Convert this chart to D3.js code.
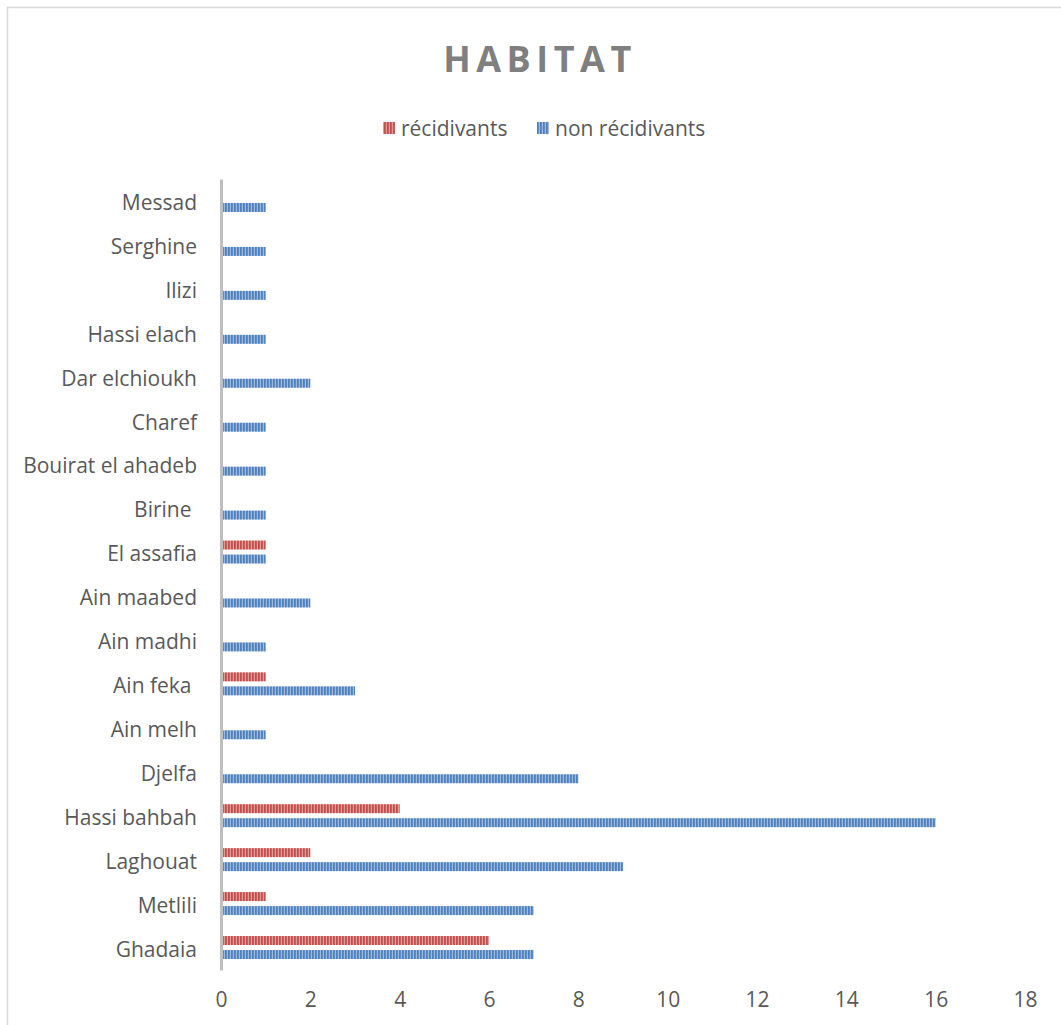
<!DOCTYPE html>
<html><head><meta charset="utf-8">
<script src="https://cdn.jsdelivr.net/npm/d3@7"></script>
<style>
html,body{margin:0;padding:0;background:#fff;}
svg text{font-family:"Open Sans",sans-serif;}
</style></head>
<body>
<script>
const categories = ["Messad","Serghine","Ilizi","Hassi elach","Dar elchioukh","Charef","Bouirat el ahadeb","Birine ","El assafia","Ain maabed","Ain madhi","Ain feka ","Ain melh","Djelfa","Hassi bahbah","Laghouat","Metlili","Ghadaia"];
const recidivants = [0,0,0,0,0,0,0,0,1,0,0,1,0,0,4,2,1,6];
const nonRecidivants = [1,1,1,1,2,1,1,1,1,2,1,3,1,8,16,9,7,7];
const xTicks = [0,2,4,6,8,10,12,14,16,18];
const seriesNames = ["récidivants","non récidivants"];

const W = 1061, H = 1025;
const svg = d3.select("body").append("svg").attr("width", W).attr("height", H);

const defs = svg.append("defs");
function stripe(id, dark, light){
  const p = defs.append("pattern").attr("id", id).attr("patternUnits","userSpaceOnUse")
    .attr("width", 3).attr("height", 10);
  p.append("rect").attr("width",3).attr("height",10).attr("fill", light);
  p.append("rect").attr("width",1.8).attr("height",10).attr("fill", dark);
}
stripe("pRed", "#C0504D", "#E59A98");
stripe("pBlue", "#4F81BD", "#9DB9DD");

// frame
svg.append("rect").attr("x",7.5).attr("y",7.5).attr("width",W).attr("height",H)
  .attr("fill","none").attr("stroke","#D9D9D9").attr("stroke-width",1.5);

const x = d3.scaleLinear().domain([0,18]).range([221,1025]);
const y = d3.scaleBand().domain(categories).range([179,970]);

// title
svg.append("text").attr("x",540).attr("y",72).attr("text-anchor","middle")
  .attr("font-size",36).attr("font-weight","bold").attr("fill","#7F7F7F")
  .attr("letter-spacing",5.5).text("HABITAT");

// legend
const leg = [{n:seriesNames[0],f:"url(#pRed)",x:383},{n:seriesNames[1],f:"url(#pBlue)",x:537}];
leg.forEach(l=>{
  svg.append("rect").attr("x",l.x).attr("y",122).attr("width",12).attr("height",12).attr("fill",l.f);
  svg.append("text").attr("x",l.x+18).attr("y",136).attr("font-size",21).attr("fill","#595959").text(l.n);
});

// bars
const bh = 9;
const g = svg.append("g");
g.selectAll("rect.r").data(categories).join("rect")
  .attr("x", x(0)+2).attr("y", d=>y(d)+y.bandwidth()/2-12)
  .attr("width", (d,i)=>Math.max(0,x(recidivants[i])-x(0)-2))
  .attr("height", bh).attr("fill","url(#pRed)");
g.selectAll("rect.b").data(categories).join("rect")
  .attr("x", x(0)+2).attr("y", d=>y(d)+y.bandwidth()/2+2)
  .attr("width", (d,i)=>Math.max(0,x(nonRecidivants[i])-x(0)-2))
  .attr("height", bh).attr("fill","url(#pBlue)");

// y axis
const ya = svg.append("g").attr("transform",`translate(${x(0)},0)`)
  .call(d3.axisLeft(y).tickSize(0).tickPadding(24));
ya.select(".domain").attr("stroke","#BFBFBF").attr("stroke-width",3);
ya.selectAll("text").attr("font-size",21).attr("fill","#595959").attr("dy","0.42em")
  .attr("font-family","'Open Sans',sans-serif").style("white-space","pre");

// x axis
const xa = svg.append("g").attr("transform","translate(0,970)")
  .call(d3.axisBottom(x).tickValues(xTicks).tickSize(0).tickPadding(22));
xa.select(".domain").remove();
xa.selectAll("text").attr("font-size",21).attr("fill","#595959")
  .attr("font-family","'Open Sans',sans-serif");
</script>
</body></html>
